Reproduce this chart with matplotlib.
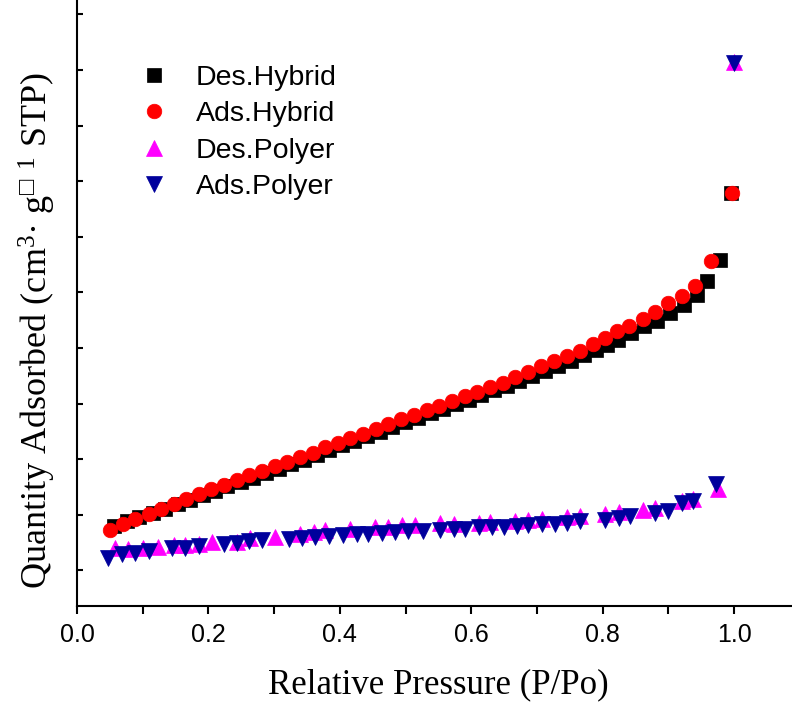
import numpy as np
import matplotlib
matplotlib.use("Agg")
import matplotlib.pyplot as plt
from matplotlib.ticker import MultipleLocator

plt.rcParams['font.family'] = ['Liberation Sans', 'DejaVu Sans']
plt.rcParams['mathtext.fontset'] = 'custom'
plt.rcParams['mathtext.rm'] = 'Liberation Serif'
plt.rcParams['mathtext.it'] = 'Liberation Serif:italic'
plt.rcParams['mathtext.fallback'] = 'stix'

## Daten
ads_hyb_x = [0.050, 0.070, 0.089, 0.109, 0.128, 0.147, 0.166, 0.185, 0.204, 0.223,
             0.243, 0.262, 0.281, 0.301, 0.320, 0.339, 0.359, 0.377, 0.397, 0.416,
             0.435, 0.455, 0.474, 0.493, 0.513, 0.532, 0.551, 0.571, 0.590, 0.609,
             0.628, 0.648, 0.667, 0.687, 0.706, 0.726, 0.745, 0.765, 0.785, 0.804,
             0.821, 0.840, 0.861, 0.880, 0.900, 0.920, 0.940, 0.965, 0.997]
ads_hyb_y = [7.3, 8.3, 9.2, 10.1, 11.0, 11.9, 12.8, 13.7, 14.6, 15.4,
             16.3, 17.1, 17.9, 18.7, 19.5, 20.4, 21.2, 22.2, 23.0, 23.8,
             24.6, 25.4, 26.4, 27.3, 28.0, 28.9, 29.6, 30.5, 31.3, 32.1,
             33.0, 33.8, 34.8, 35.7, 36.7, 37.6, 38.5, 39.5, 40.8, 41.8,
             43.0, 44.0, 45.2, 46.4, 48.1, 49.3, 51.2, 55.7, 67.9]

des_hyb_x = [0.056, 0.076, 0.095, 0.115, 0.134, 0.153, 0.172, 0.191, 0.210, 0.229,
             0.249, 0.268, 0.287, 0.307, 0.326, 0.345, 0.365, 0.383, 0.403, 0.422,
             0.441, 0.461, 0.480, 0.499, 0.519, 0.538, 0.557, 0.577, 0.596, 0.615,
             0.634, 0.654, 0.673, 0.693, 0.712, 0.732, 0.751, 0.771, 0.790, 0.806,
             0.823, 0.843, 0.863, 0.883, 0.903, 0.923, 0.943, 0.959, 0.979, 0.995]
des_hyb_y = [7.9, 8.8, 9.6, 10.3, 11.1, 11.9, 12.7, 13.5, 14.3, 15.1,
             15.9, 16.7, 17.5, 18.3, 19.1, 19.9, 20.8, 21.7, 22.5, 23.3,
             24.1, 24.9, 25.8, 26.7, 27.5, 28.3, 29.1, 29.9, 30.7, 31.5,
             32.4, 33.2, 34.1, 35.0, 35.9, 36.8, 37.7, 38.7, 39.7, 40.6,
             41.5, 42.7, 43.9, 44.8, 46.3, 47.8, 49.6, 52.0, 55.8, 67.9]

des_pol_x = [0.058, 0.078, 0.101, 0.124, 0.147, 0.164, 0.185, 0.205, 0.243, 0.263,
             0.301, 0.339, 0.360, 0.377, 0.416, 0.454, 0.474, 0.494, 0.514, 0.553,
             0.573, 0.611, 0.629, 0.667, 0.687, 0.707, 0.745, 0.766, 0.804, 0.824,
             0.862, 0.880, 0.920, 0.938, 0.975, 1.000]
des_pol_y = [4.0, 3.9, 4.0, 4.2, 4.5, 4.6, 4.8, 5.1, 5.2, 5.8,
             6.0, 6.5, 7.0, 7.2, 7.5, 7.8, 7.8, 8.1, 8.2, 8.5,
             8.4, 8.5, 8.7, 8.9, 9.1, 9.3, 9.6, 9.7, 10.2, 10.5,
             10.9, 11.3, 12.5, 12.9, 14.6, 91.5]

ads_pol_x = [0.047, 0.068, 0.088, 0.109, 0.144, 0.164, 0.185, 0.223, 0.243, 0.261,
             0.281, 0.322, 0.342, 0.362, 0.383, 0.405, 0.426, 0.443, 0.464, 0.484,
             0.504, 0.527, 0.553, 0.573, 0.591, 0.611, 0.631, 0.649, 0.669, 0.687,
             0.707, 0.728, 0.745, 0.766, 0.804, 0.824, 0.842, 0.880, 0.900, 0.920,
             0.938, 0.973, 1.000]
ads_pol_y = [2.3, 2.9, 3.2, 3.5, 4.1, 4.1, 4.4, 4.8, 5.0, 5.3,
             5.4, 5.7, 5.9, 6.0, 6.2, 6.4, 6.5, 6.6, 6.8, 6.9,
             7.1, 7.1, 7.2, 7.5, 7.5, 7.8, 7.8, 7.8, 8.0, 8.1,
             8.3, 8.4, 8.6, 8.8, 9.1, 9.5, 9.7, 10.3, 10.6, 12.1,
             12.4, 15.6, 91.2]

fig = plt.figure(figsize=(7.92, 7.07), dpi=100)
ax = fig.add_axes([77/792, 101/707, 715/792, 606/707])

ax.plot(des_hyb_x, des_hyb_y, 's', color='black', ms=9.5, mew=0.5, label='Des.Hybrid')
ax.plot(ads_hyb_x, ads_hyb_y, 'o', color='red', ms=10.5, mew=0.5, label='Ads.Hybrid')
ax.plot(des_pol_x, des_pol_y, '^', color='#FF00FF', ms=11.5, mew=0.5, label='Des.Polyer')
ax.plot(ads_pol_x, ads_pol_y, 'v', color='#00009C', ms=11.5, mew=0.5, label='Ads.Polyer')

ax.set_xlim(0, 1.088)
ax.set_ylim(-6.4, 102.6)

ax.spines['top'].set_visible(False)
ax.spines['right'].set_visible(False)
ax.spines['left'].set_linewidth(1.5)
ax.spines['bottom'].set_linewidth(1.5)

ax.xaxis.set_major_locator(MultipleLocator(0.2))
ax.xaxis.set_minor_locator(MultipleLocator(0.1))
ax.xaxis.set_major_formatter(matplotlib.ticker.FormatStrFormatter('%.1f'))
ax.tick_params(axis='x', which='both', direction='out', length=6, width=1.5,
               labelsize=18, pad=6)
ax.yaxis.set_major_locator(MultipleLocator(10))
ax.tick_params(axis='y', which='both', direction='in', length=4, width=1.5,
               labelleft=False)

ax.set_xlabel('Relative Pressure (P/Po)', family=['Liberation Serif', 'DejaVu Serif'],
              fontsize=25, va='top')
ax.xaxis.set_label_coords(0.506, -0.103)
ax.set_ylabel('Quantity Adsorbed (cm$^3$· g$^{\u25a1}$ $^1$ STP)',
              family=['Liberation Serif', 'DejaVu Serif'], fontsize=26)
ax.yaxis.set_label_coords(-0.026, 0.455)

ax.legend(loc='upper left', bbox_to_anchor=(140/792, 1 - 65/707),
          bbox_transform=fig.transFigure, frameon=False, fontsize=20.5,
          handlelength=1.0, handletextpad=0.95, labelspacing=0.36,
          borderpad=0, borderaxespad=0, numpoints=1)

plt.savefig('out.png', dpi=100)
